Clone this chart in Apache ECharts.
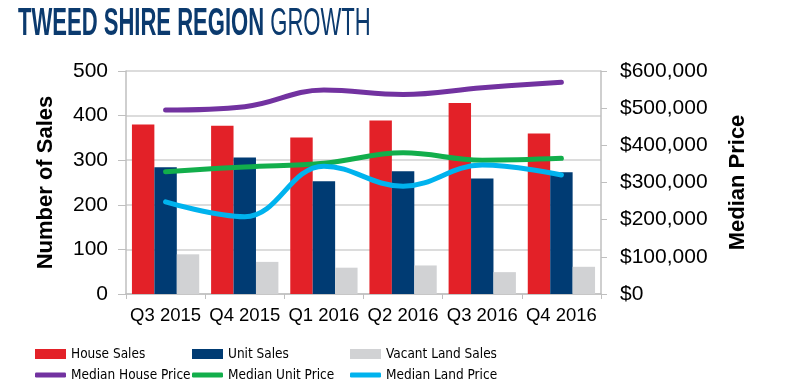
<!DOCTYPE html>
<html>
<head>
<meta charset="utf-8">
<script src="https://cdn.jsdelivr.net/npm/echarts@6/dist/echarts.min.js"></script>
<style>html,body{margin:0;padding:0;background:#fff;}#c{width:800px;height:392px;}</style>
</head>
<body>
<div id="c"></div>
<script>
const categories = ['Q3 2015', 'Q4 2015', 'Q1 2016', 'Q2 2016', 'Q3 2016', 'Q4 2016'];
const houseSales = [380, 377, 351, 389, 428, 360];
const unitSales = [284, 306, 253, 275, 259, 273];
const vacantLandSales = [89, 72, 59, 64, 49, 61];
const medianHousePrice = [495000, 504000, 549000, 537000, 555000, 570000];
const medianUnitPrice = [329000, 342000, 352000, 380000, 360000, 365000];
const medianLandPrice = [248000, 208000, 344000, 290000, 347000, 320000];
const salesTicks = [0, 100, 200, 300, 400, 500];
const priceTicks = [0, 100000, 200000, 300000, 400000, 500000, 600000];

const FONT = "'Liberation Sans', Arial, sans-serif";
const NARROW = "'Liberation Sans Narrow', 'Arial Narrow', 'DejaVu Sans Condensed', sans-serif";
const chart = echarts.init(document.getElementById('c'));

function legendAt(name, left, top, isLine) {
  return {
    data: [{ name: name, icon: isLine ? 'roundRect' : 'rect' }],
    left: left, top: top,
    itemWidth: 31, itemHeight: isLine ? 5 : 10,
    padding: 0,
    textStyle: { fontFamily: NARROW, fontSize: 13.5, color: '#000' }
  };
}

const option = {
  animation: false,
  backgroundColor: '#fff',
  graphic: [{
    type: 'text', x: 18, y: 25, scaleX: 0.58, scaleY: 1, originX: 0, originY: 0,
    style: {
      text: '{a|TWEED SHIRE REGION} {b|GROWTH}',
      verticalAlign: 'middle',
      rich: {
        a: { fontFamily: FONT, fontSize: 38, fontWeight: 'bold', fill: '#0B3A6E' },
        b: { fontFamily: FONT, fontSize: 38, fontWeight: 'normal', fill: '#0B3A6E' }
      },
      fontFamily: FONT, fontSize: 38, fill: '#0B3A6E'
    }
  }],
  legend: [
    legendAt('House Sales', 35, 347, false),
    legendAt('Unit Sales', 192, 347, false),
    legendAt('Vacant Land Sales', 350, 347, false),
    legendAt('Median House Price', 35, 368, true),
    legendAt('Median Unit Price', 192, 368, true),
    legendAt('Median Land Price', 350, 368, true)
  ],
  grid: { left: 126, right: 199, top: 71, bottom: 98 },
  xAxis: {
    type: 'category', data: categories,
    axisLine: { lineStyle: { color: '#BFBFBF', width: 1.5 } },
    axisTick: { show: true, length: 5, lineStyle: { color: '#BFBFBF' } },
    axisLabel: { fontFamily: FONT, fontSize: 18.5, color: '#000', margin: 12, interval: 0 }
  },
  yAxis: [{
    type: 'value', min: salesTicks[0], max: salesTicks[salesTicks.length - 1], interval: 100,
    name: 'Number of Sales', nameLocation: 'middle', nameRotate: 90, nameGap: 69,
    nameTextStyle: { fontFamily: FONT, fontSize: 22, fontWeight: 'bold', color: '#000' },
    axisLine: { show: true, lineStyle: { color: '#BFBFBF', width: 1.5 } },
    axisTick: { show: true, length: 8, lineStyle: { color: '#BFBFBF' } },
    axisLabel: { fontFamily: FONT, fontSize: 21, color: '#000', margin: 18 },
    splitLine: { show: true, lineStyle: { color: '#D0D0D0', width: 1.5 } }
  }, {
    type: 'value', min: priceTicks[0], max: priceTicks[priceTicks.length - 1], interval: 100000,
    position: 'right',
    name: 'Median Price', nameLocation: 'middle', nameRotate: 90, nameGap: 126,
    nameTextStyle: { fontFamily: FONT, fontSize: 22, fontWeight: 'bold', color: '#000' },
    axisLine: { show: true, lineStyle: { color: '#BFBFBF', width: 1.5 } },
    axisTick: { show: true, length: 6, lineStyle: { color: '#BFBFBF' } },
    axisLabel: {
      fontFamily: FONT, fontSize: 21, color: '#000', margin: 19,
      formatter: v => '$' + v.toLocaleString('en-US')
    },
    splitLine: { show: false }
  }],
  series: [
    { name: 'House Sales', type: 'bar', data: houseSales, barGap: '0%', barCategoryGap: '15%', itemStyle: { color: '#E32128' } },
    { name: 'Unit Sales', type: 'bar', data: unitSales, barGap: '0%', barCategoryGap: '15%', itemStyle: { color: '#003B73' } },
    { name: 'Vacant Land Sales', type: 'bar', data: vacantLandSales, barGap: '0%', barCategoryGap: '15%', itemStyle: { color: '#D1D2D4' } },
    { name: 'Median House Price', type: 'line', yAxisIndex: 1, data: medianHousePrice, smooth: 0.4, symbol: 'none',
      lineStyle: { color: '#7232A0', width: 5, cap: 'round' }, itemStyle: { color: '#7232A0' } },
    { name: 'Median Unit Price', type: 'line', yAxisIndex: 1, data: medianUnitPrice, smooth: 0.4, symbol: 'none',
      lineStyle: { color: '#12AE4B', width: 5, cap: 'round' }, itemStyle: { color: '#12AE4B' } },
    { name: 'Median Land Price', type: 'line', yAxisIndex: 1, data: medianLandPrice, smooth: 0.4, symbol: 'none',
      lineStyle: { color: '#00B3EE', width: 5, cap: 'round' }, itemStyle: { color: '#00B3EE' } }
  ]
};
chart.setOption(option);
</script>
</body>
</html>
